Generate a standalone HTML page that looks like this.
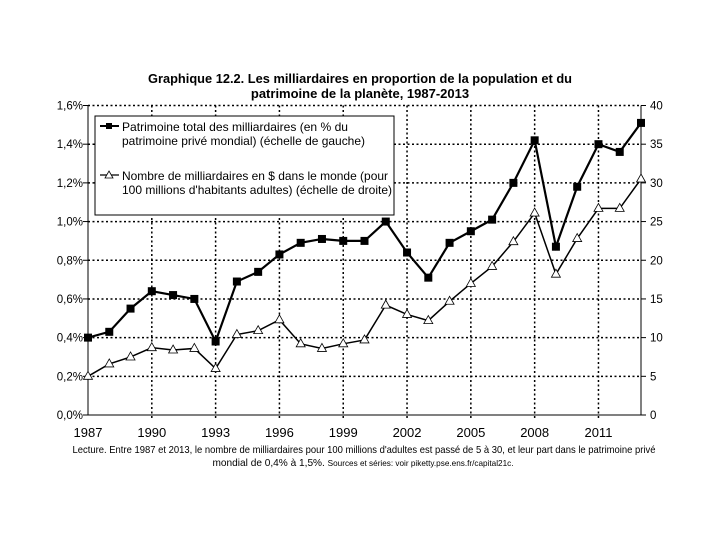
<!DOCTYPE html>
<html><head><meta charset="utf-8"><style>
body{margin:0;background:#fff;}
svg{font-family:"Liberation Sans",sans-serif;}
</style></head><body>
<svg width="720" height="540">
<text x="360" y="83" text-anchor="middle" font-size="13" font-weight="bold" textLength="424" lengthAdjust="spacingAndGlyphs">Graphique 12.2. Les milliardaires en proportion de la population et du</text>
<text x="360" y="98" text-anchor="middle" font-size="13" font-weight="bold">patrimoine de la planète, 1987-2013</text>
<g id="grid"></g>
<g id="axes"></g>
<g id="series"></g>
<g>
<rect x="95" y="116" width="299" height="99" fill="#fff" stroke="#000" stroke-width="1"/>
<line x1="100" y1="126" x2="119" y2="126" stroke="#000" stroke-width="2"/>
<rect x="106" y="123" width="6" height="6" fill="#000"/>
<text x="122" y="131" font-size="12" textLength="226" lengthAdjust="spacingAndGlyphs">Patrimoine total des milliardaires (en % du</text>
<text x="122" y="145" font-size="12" textLength="243" lengthAdjust="spacingAndGlyphs">patrimoine privé mondial) (échelle de gauche)</text>
<line x1="100" y1="175" x2="119" y2="175" stroke="#000" stroke-width="1.2"/>
<path d="M109,171 L113,178 L105,178 Z" fill="#fff" stroke="#000" stroke-width="0.8"/>
<text x="122" y="180" font-size="12" textLength="266" lengthAdjust="spacingAndGlyphs">Nombre de milliardaires en $ dans le monde (pour</text>
<text x="122" y="194" font-size="12" textLength="270" lengthAdjust="spacingAndGlyphs">100 millions d'habitants adultes) (échelle de droite)</text>
</g>
<text x="364" y="453" text-anchor="middle" font-size="10.5" textLength="583" lengthAdjust="spacingAndGlyphs">Lecture. Entre 1987 et 2013, le nombre de milliardaires pour 100 millions d'adultes est passé de 5 à 30, et leur part dans le patrimoine privé</text>
<text x="363" y="466" text-anchor="middle" font-size="10.5" textLength="301" lengthAdjust="spacingAndGlyphs">mondial de 0,4% à 1,5%. <tspan font-size="8.5">Sources et séries: voir piketty.pse.ens.fr/capital21c.</tspan></text>
</svg>
<script>
const years=[1987,1988,1989,1990,1991,1992,1993,1994,1995,1996,1997,1998,1999,2000,2001,2002,2003,2004,2005,2006,2007,2008,2009,2010,2011,2012,2013];
const wealthShare=[0.40,0.43,0.55,0.64,0.62,0.60,0.38,0.69,0.74,0.83,0.89,0.91,0.90,0.90,1.00,0.84,0.71,0.89,0.95,1.01,1.20,1.42,0.87,1.18,1.40,1.36,1.51];
const billionaires=[5,6.6,7.5,8.7,8.4,8.6,6,10.4,10.9,12.3,9.2,8.6,9.2,9.7,14.2,13,12.2,14.7,17,19.2,22.4,26.1,18.2,22.8,26.7,26.7,30.5];
const xTicks=[1987,1990,1993,1996,1999,2002,2005,2008,2011];
const leftTicks=["0,0%","0,2%","0,4%","0,6%","0,8%","1,0%","1,2%","1,4%","1,6%"];
const rightTicks=[0,5,10,15,20,25,30,35,40];
const NS="http://www.w3.org/2000/svg";
const X0=88,XR=641,Y0=415,Y1=105.5;
const PX=(XR-X0)/26;
const x=y=>X0+(y-1987)*PX;
const yl=v=>Y0-(v/1.6)*(Y0-Y1);
const yr=v=>Y0-(v/40)*(Y0-Y1);
function mk(t,a,p){const e=document.createElementNS(NS,t);for(const k in a)e.setAttribute(k,a[k]);p.appendChild(e);return e;}
const grid=document.getElementById('grid'),axes=document.getElementById('axes'),ser=document.getElementById('series');
leftTicks.forEach((lab,i)=>{const v=i*0.2,yy=yl(v);
 if(i>0){const g=mk('line',{x1:X0,x2:XR,y1:yy,y2:yy,stroke:'#000','stroke-width':1.5,'stroke-dasharray':'2,2.5'},grid);
 
 }
 mk('line',{x1:X0-5,x2:X0,y1:yy,y2:yy,stroke:'#000'},axes);
 const t=mk('text',{x:X0-5,y:yy+4,'text-anchor':'end','font-size':11.5},axes);t.textContent=lab;
 
 
});
rightTicks.forEach(v=>{const yy=yr(v);
 mk('line',{x1:XR,x2:XR+5,y1:yy,y2:yy,stroke:'#000'},axes);
 const t=mk('text',{x:XR+9,y:yy+4,'font-size':11.5},axes);t.textContent=v;
 
 
});
xTicks.forEach(yv=>{const xx=x(yv);
 if(yv>1987){const g=mk('line',{x1:xx,x2:xx,y1:Y1,y2:Y0+4,stroke:'#000','stroke-width':1.5,'stroke-dasharray':'2,2.5'},grid);
 
 }
 const t=mk('text',{x:xx,y:Y0+22,'text-anchor':'middle','font-size':13},axes);t.textContent=yv;
 
 
});
const ax=mk('path',{d:`M${X0},${Y1}V${Y0}H${XR}V${Y1}`,fill:'none',stroke:'#000','stroke-width':1},axes);


const l1=mk('polyline',{points:years.map((y,i)=>x(y)+','+yl(wealthShare[i])).join(' '),fill:'none',stroke:'#000','stroke-width':2.2},ser);


const l2=mk('polyline',{points:years.map((y,i)=>x(y)+','+yr(billionaires[i])).join(' '),fill:'none',stroke:'#000','stroke-width':1.5},ser);


years.forEach((y,i)=>{
 const cx=x(y),cy=yl(wealthShare[i]);
 const s=mk('rect',{x:cx-4,y:cy-4,width:8,height:8,fill:'#000'},ser);
 
 
 const ty=yr(billionaires[i]);
 const p=mk('path',{d:`M${cx},${ty-5} L${cx+4.5},${ty+3} L${cx-4.5},${ty+3} Z`,fill:'#fff',stroke:'#000','stroke-width':0.8},ser);
 
 
});
</script>
</body></html>
